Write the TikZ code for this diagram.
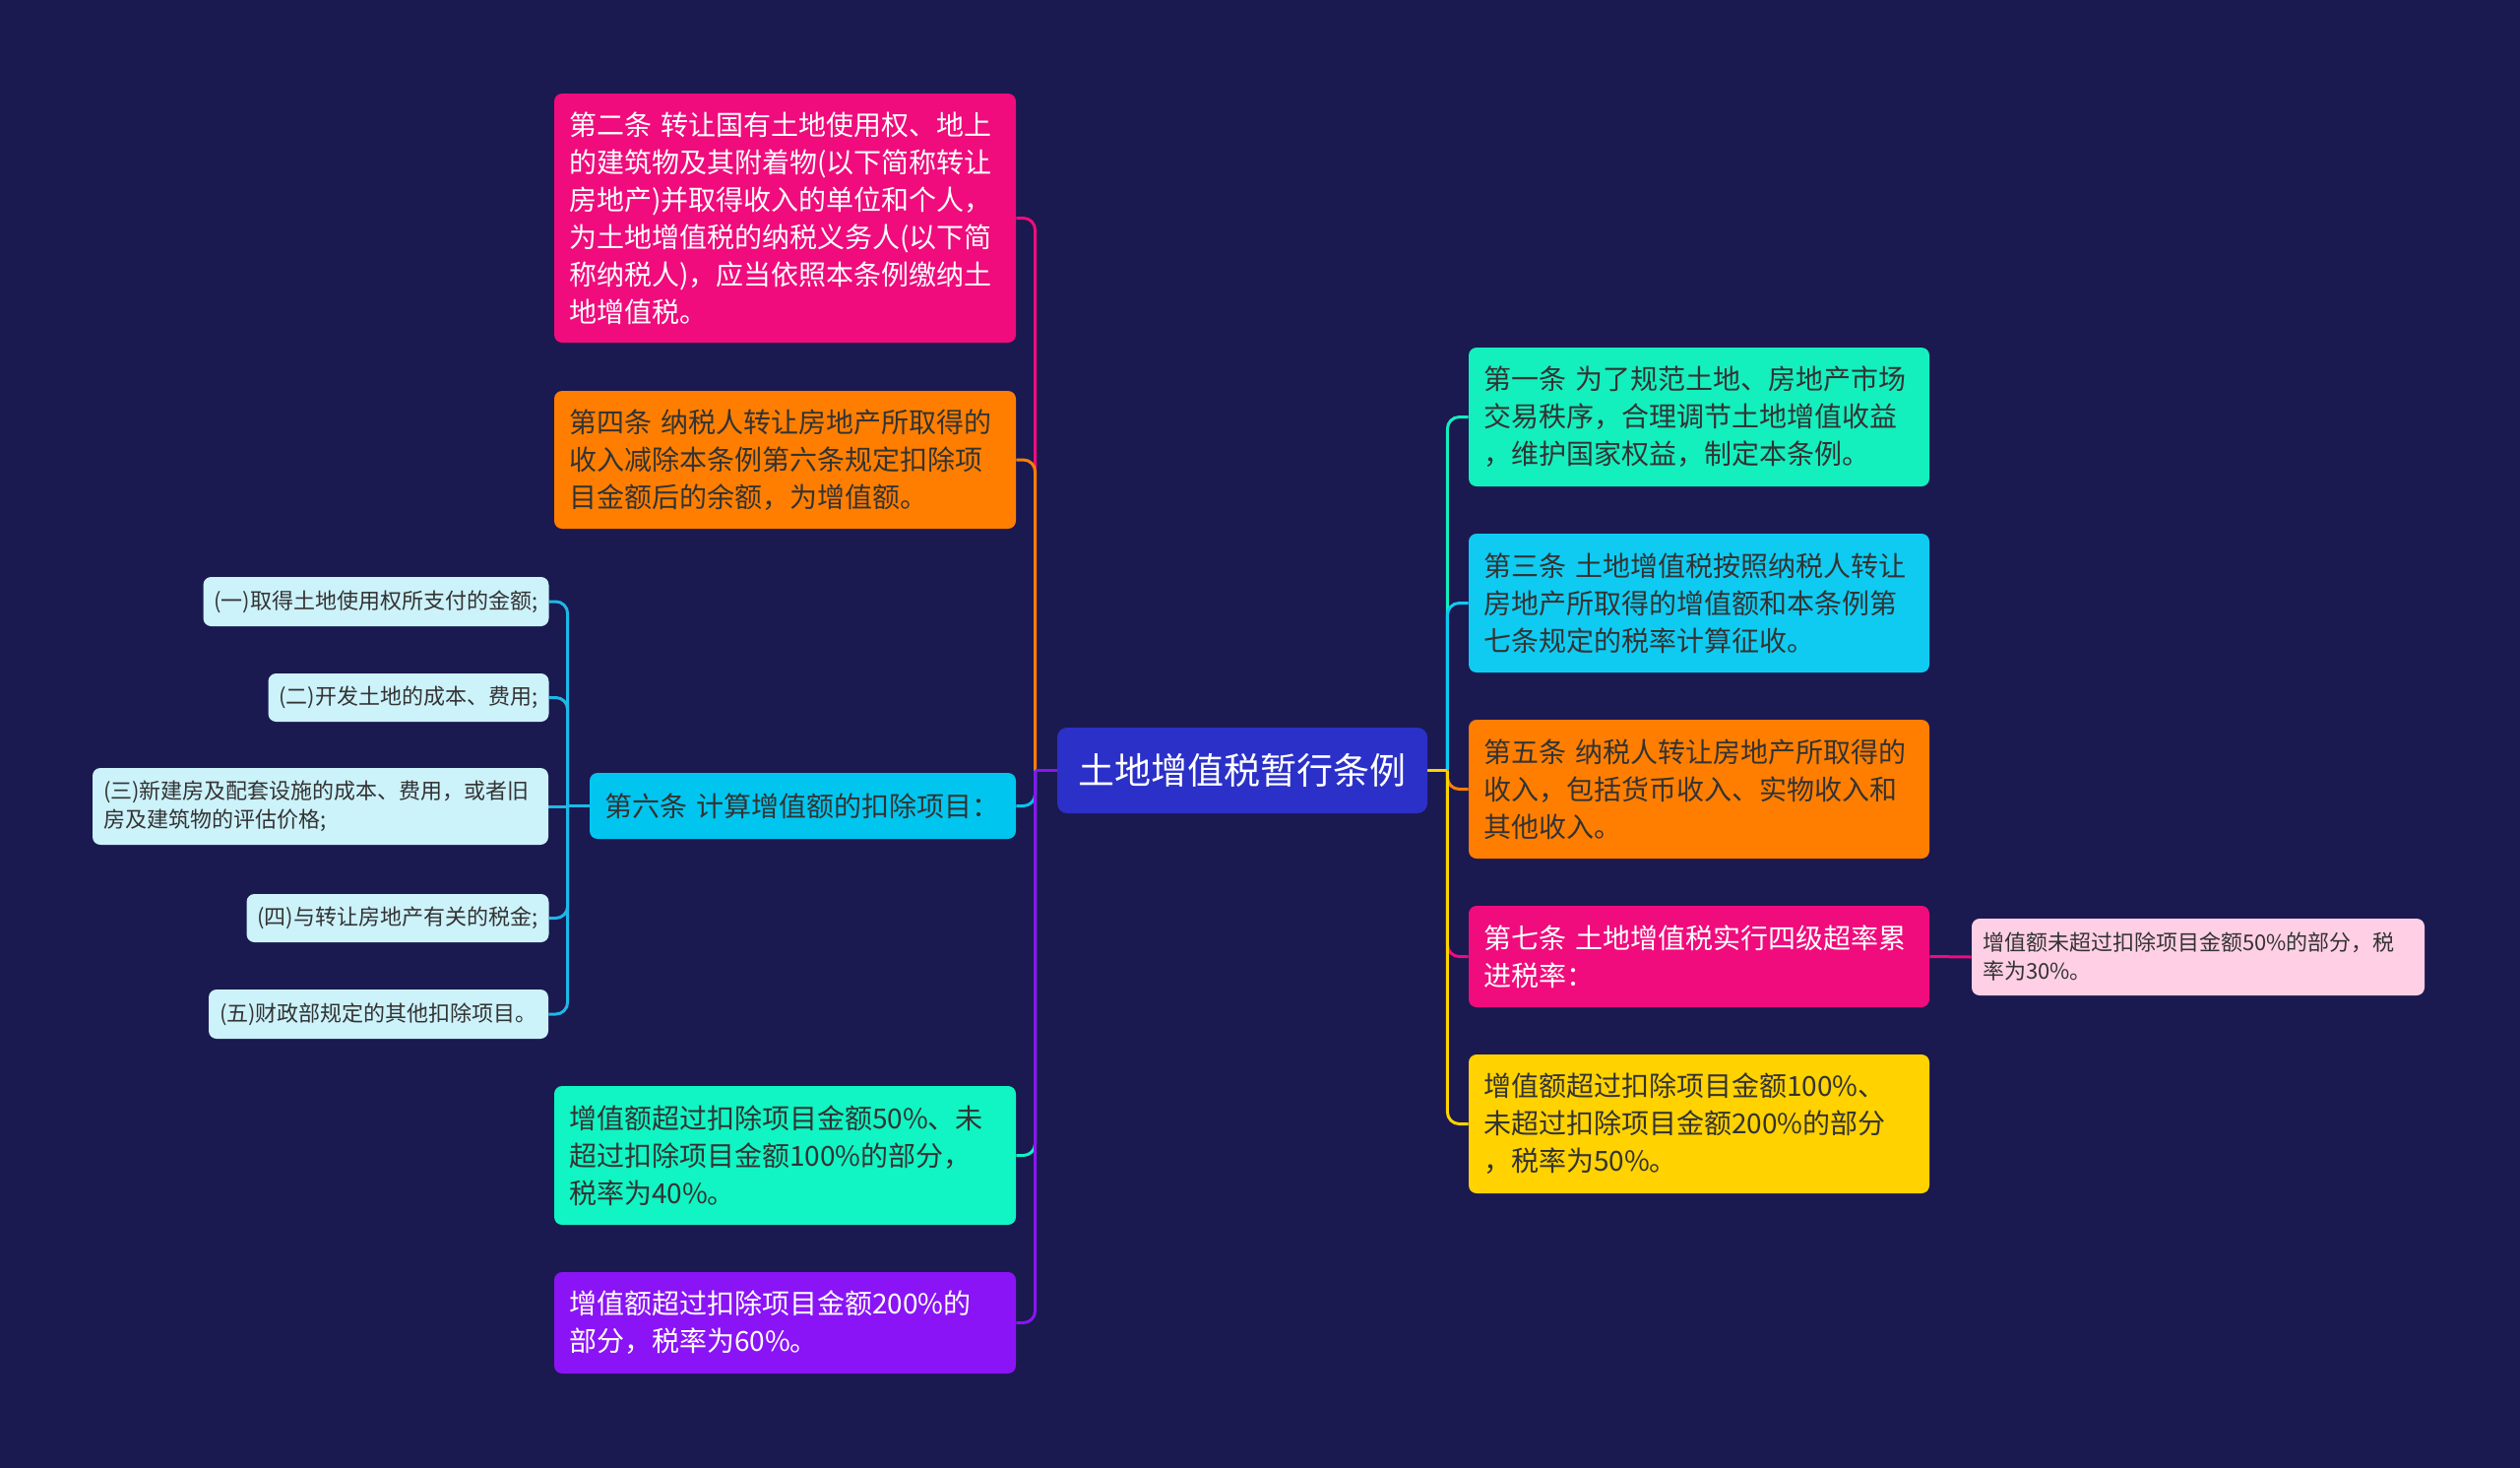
\documentclass[tikz,border=0pt]{standalone}
\usepackage{fontspec}
\setmainfont{Noto Sans CJK SC}
\definecolor{bg}{HTML}{1A1950}
\definecolor{rootc}{HTML}{2B30C8}
\definecolor{pinkc}{HTML}{F00C7C}
\definecolor{orangec}{HTML}{FF7E00}
\definecolor{cyanc}{HTML}{00C6EF}
\definecolor{tealc}{HTML}{10F5C3}
\definecolor{greenc}{HTML}{14EFBE}
\definecolor{bluec}{HTML}{0FCBF2}
\definecolor{purplec}{HTML}{8A14F5}
\definecolor{yellowc}{HTML}{FFD200}
\definecolor{lcyan}{HTML}{CCF2FA}
\definecolor{lpink}{HTML}{FFD0E5}
\definecolor{darktext}{HTML}{333333}
\definecolor{linecyan}{HTML}{1DB8E8}
\pgfdeclarelayer{bgfill}
\pgfdeclarelayer{edges}
\pgfsetlayers{bgfill,edges,main}
\begin{document}
\begin{tikzpicture}[x=0.5pt,y=-0.5pt,
  big/.style={rounded corners=4pt, inner xsep=7.5pt, inner ysep=0pt,
    text width=219.5pt, align=left, font=\fontsize{14pt}{19pt}\selectfont},
  small/.style={rounded corners=4pt, inner xsep=5.5pt, inner ysep=0pt,
    align=center, fill=lcyan, text=darktext, font=\fontsize{11pt}{14.5pt}\selectfont},
  lk/.style={line width=1.5pt, rounded corners=6pt},
  lks/.style={line width=1.5pt}]
\useasboundingbox (0,0) rectangle (2560,1490);
\begin{pgfonlayer}{bgfill}
\fill[bg] (-20,-20) rectangle (2580,1510);
\end{pgfonlayer}

% root
\node[rounded corners=5pt, fill=rootc, text=white, minimum width=188pt, minimum height=43.5pt,
  inner sep=0pt, font=\fontsize{18.5pt}{22pt}\selectfont] (root) at (1262,782.5) {土地增值税暂行条例};

% left side
\node[big, fill=pinkc, text=white, minimum height=126.5pt] (n2) at (797.5,221.5)
 {第二条~转让国有土地使用权、地上\\的建筑物及其附着物(以下简称转让\\房地产)并取得收入的单位和个人，\\为土地增值税的纳税义务人(以下简\\称纳税人)，应当依照本条例缴纳土\\地增值税。};
\node[big, fill=orangec, text=darktext, minimum height=70pt] (n4) at (797.5,467)
 {第四条~纳税人转让房地产所取得的\\收入减除本条例第六条规定扣除项\\目金额后的余额，为增值额。};
\node[big, fill=cyanc, text=darktext, minimum height=33.5pt, text width=201.5pt] (n6) at (815.5,818.5)
 {第六条~计算增值额的扣除项目：};
\node[big, fill=tealc, text=darktext, minimum height=70.5pt] (n40) at (797.5,1173.5)
 {增值额超过扣除项目金额50\%、未\\超过扣除项目金额100\%的部分，\\税率为40\%。};
\node[big, fill=purplec, text=white, minimum height=51.5pt] (n60) at (797.5,1343.5)
 {增值额超过扣除项目金额200\%的\\部分，税率为60\%。};

% children of n6
\node[small, minimum width=175pt, minimum height=25pt] (c1) at (382,611) {(一)取得土地使用权所支付的金额;};
\node[small, minimum width=142pt, minimum height=24.5pt] (c2) at (415,708.5) {(二)开发土地的成本、费用;};
\node[small, align=left, text width=220.5pt, minimum height=39pt] (c3) at (325.5,819)
 {(三)新建房及配套设施的成本、费用，或者旧\\房及建筑物的评估价格;};
\node[small, minimum width=153pt, minimum height=24.5pt] (c4) at (404,932.5) {(四)与转让房地产有关的税金;};
\node[small, minimum width=172.5pt, minimum height=25pt] (c5) at (384.5,1030) {(五)财政部规定的其他扣除项目。};

% right side
\node[big, fill=greenc, text=darktext, minimum height=70.5pt, text width=219pt] (n1) at (1726,423.5)
 {第一条~为了规范土地、房地产市场\\交易秩序，合理调节土地增值收益\\，维护国家权益，制定本条例。};
\node[big, fill=bluec, text=darktext, minimum height=70.5pt, text width=219pt] (n3) at (1726,612.5)
 {第三条~土地增值税按照纳税人转让\\房地产所取得的增值额和本条例第\\七条规定的税率计算征收。};
\node[big, fill=orangec, text=darktext, minimum height=70.5pt, text width=219pt] (n5) at (1726,801.5)
 {第五条~纳税人转让房地产所取得的\\收入，包括货币收入、实物收入和\\其他收入。};
\node[big, fill=pinkc, text=white, minimum height=51.5pt, text width=219pt] (n7) at (1726,971.5)
 {第七条~土地增值税实行四级超率累\\进税率：};
\node[big, fill=yellowc, text=darktext, minimum height=70.5pt, text width=219pt] (n50) at (1726,1141.5)
 {增值额超过扣除项目金额100\%、\\未超过扣除项目金额200\%的部分\\，税率为50\%。};
\node[small, fill=lpink, align=left, text width=219pt, minimum height=39pt] (p30) at (2233,972)
 {增值额未超过扣除项目金额50\%的部分，税\\率为30\%。};

\coordinate (jl) at ([xshift=-11pt]root.west);
\coordinate (jr) at ([xshift=10pt]root.east);
\coordinate (j6) at ([xshift=-11pt]n6.west);

\begin{pgfonlayer}{edges}
\draw[lk, pinkc] (jl) |- (n2.east);
\draw[lk, orangec] (jl) |- (n4.east);
\draw[lk, cyanc] (jl) |- (n6.east);
\draw[lk, tealc] (jl) |- (n40.east);
\draw[lk, purplec] (jl) |- (n60.east);
\draw[lks, purplec] (root.west) -- (jl);

\draw[lk, greenc] (jr) |- (n1.west);
\draw[lk, bluec] (jr) |- (n3.west);
\draw[lk, orangec] (jr) |- (n5.west);
\draw[lk, pinkc] (jr) |- (n7.west);
\draw[lk, yellowc] (jr) |- (n50.west);
\draw[lks, yellowc] (root.east) -- (jr);

\draw[lk, linecyan] (j6) |- (c1.east);
\draw[lk, linecyan] (j6) |- (c2.east);
\draw[lks, linecyan] (j6) |- (c3.east);
\draw[lk, linecyan] (j6) |- (c4.east);
\draw[lk, linecyan] (j6) |- (c5.east);
\draw[lks, linecyan] (n6.west) -- (j6);

\draw[lks, pinkc] (n7.east) -- (p30.west);
\end{pgfonlayer}
\end{tikzpicture}
\end{document}
